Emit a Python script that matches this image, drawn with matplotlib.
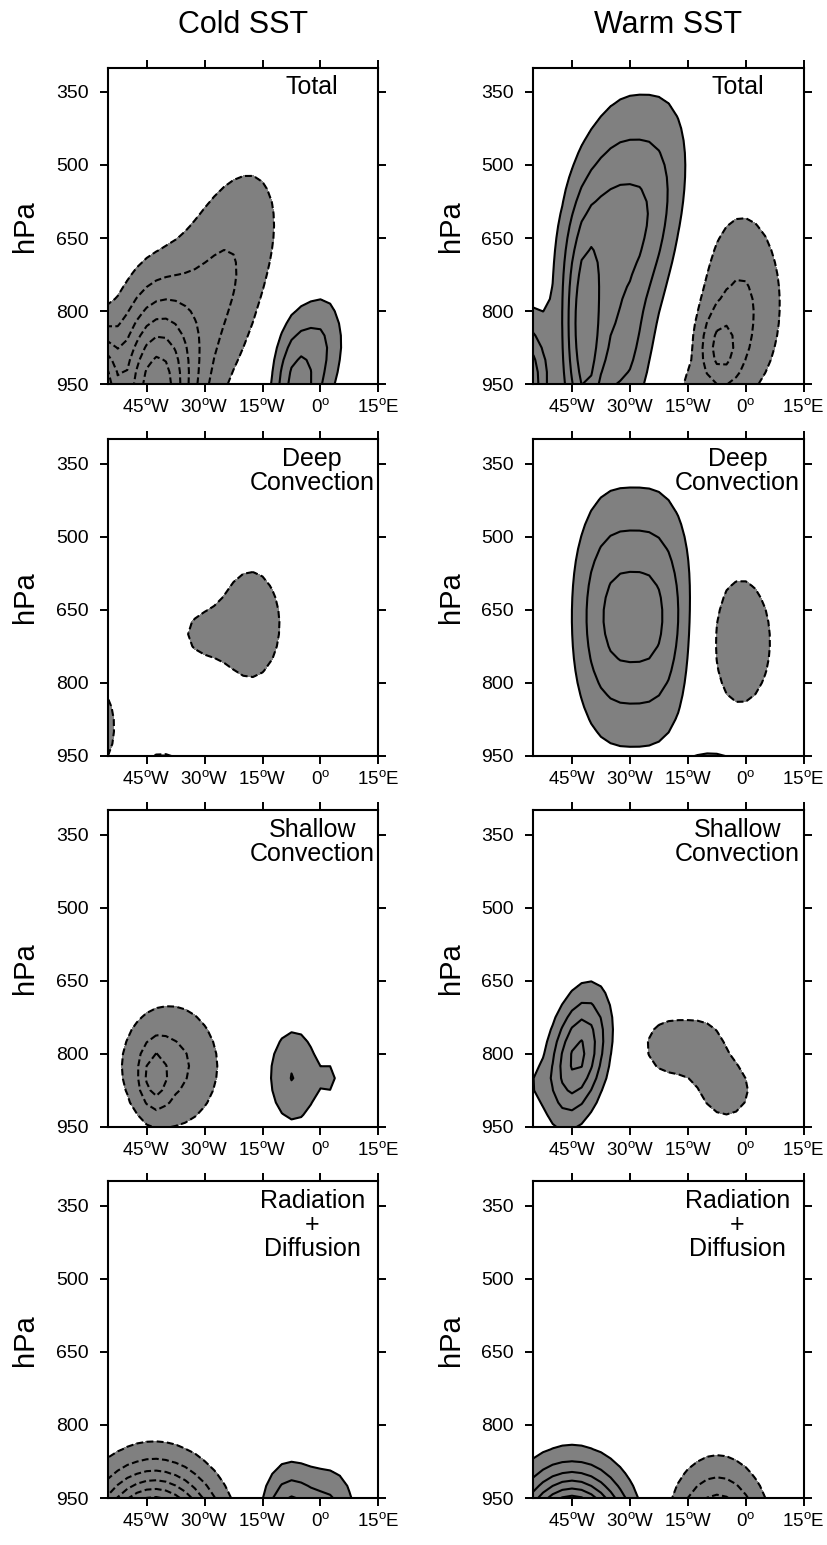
import numpy as np
import matplotlib
matplotlib.use("Agg")
import matplotlib.pyplot as plt

plt.rcParams['font.family'] = ['Liberation Sans', 'DejaVu Sans']
plt.rcParams['mathtext.fontset'] = 'custom'
plt.rcParams['mathtext.rm'] = 'Liberation Sans'
plt.rcParams['lines.dashed_pattern'] = [3.3, 1.6]

# column titles / panel names
col_titles = ['Cold SST', 'Warm SST']
row_names = ['Total', 'Deep\nConvection', 'Shallow\nConvection', 'Radiation\n+\nDiffusion']

# axes
lon_ticks = [-45, -30, -15, 0, 15]
lon_labels = ['45$^\\mathrm{o}$W', '30$^\\mathrm{o}$W', '15$^\\mathrm{o}$W', '0$^\\mathrm{o}$', '15$^\\mathrm{o}$E']
p_ticks = [350, 500, 650, 800, 950]

# anomaly cells:
# (lon centre, p centre, lon width, p width, amplitude, tilt deg/hPa, lon shape power)
cold_total = [(-27, 760, 10, 190, -2.2, -0.035, 2),
              (-43, 975, 7, 140, -6.0, 0, 2),
              (-57, 960, 3, 80, -5.0, 0, 2),
              (-6, 970, 4.5, 110, 3.6, 0, 2),
              (1.5, 860, 3.8, 75, 1.5, 0, 2)]
warm_total = [(-32, 625, 11, 172, 3.4, -0.02, 2.6),
              (-42, 900, 3.5, 170, 3.5, 0, 2),
              (-57, 950, 4, 90, 4.0, 0, 2),
              (-32, 900, 5, 100, 1.5, 0, 2),
              (-1, 785, 8, 145, -2.1, 0, 2),
              (-7, 885, 4.0, 60, -2.15, 0, 2),
              (-16, 950, 3, 30, -0.8, 0, 2)]
cold_deep = [(-18, 680, 6.5, 95, -1.9, 0, 2),
             (-31, 700, 5, 45, -1.15, 0, 2),
             (-57, 890, 3, 60, -2.0, 0, 2),
             (-41, 960, 5, 20, -1.3, 0, 2)]
warm_deep = [(-29, 665, 11.8, 168, 3.5, 0, 3),
             (-1.5, 715, 8, 130, -1.6, 0, 2),
             (-8, 955, 5, 12, 1.6, 0, 2)]
cold_shallow = [(-39, 825, 9.5, 95, -2.3, 0, 2),
                (-43, 850, 2.5, 45, -1.8, 0, 2),
                (-7, 845, 5, 75, 2.05, 0, 2),
                (2.5, 850, 1.8, 25, 1.1, 0, 2)]
warm_shallow = [(-43.5, 805, 5, 90, 4.3, -0.02, 2),
                (-54, 860, 2, 30, 0.7, 0, 2),
                (-16, 785, 9, 50, -1.8, 0, 3),
                (-5, 875, 5, 45, -1.8, 0, 2)]
cold_rad = [(-43, 1050, 10.5, 100, -10.1, 0, 2),
            (-8, 1010, 5, 80, 4.0, 0, 2),
            (3, 970, 4.5, 60, 1.9, 0, 2)]
warm_rad = [(-45, 1050, 9.2, 95, 11, 0, 2),
            (-7.3, 1040, 8.1, 100, -4.8, 0, 2)]

panels = [[cold_total, warm_total],
          [cold_deep, warm_deep],
          [cold_shallow, warm_shallow],
          [cold_rad, warm_rad]]

lon = np.arange(-55, 15.01, 2.5)
lev = np.arange(300, 950.1, 25)
LON, P = np.meshgrid(lon, lev)


def build_field(cells):
    z = np.zeros_like(LON)
    for x0, p0, sx, sp, amp, tilt, q in cells:
        xc = x0 + tilt * (P - p0)
        d = np.abs((LON - xc) / sx) ** q + ((P - p0) / sp) ** 2
        z += amp * np.exp(-0.5 * d)
    return z


fig = plt.figure(figsize=(8.27, 15.45), dpi=100)

lefts = [0.1306, 0.6449]
width = 0.327
bottoms = [0.7513, 0.5107, 0.2706, 0.0304]
height = 0.2050

for r in range(4):
    for c in range(2):
        ax = fig.add_axes([lefts[c], bottoms[r], width, height])
        z = build_field(panels[r][c])
        ax.contourf(LON, P, z, levels=[1, 1e3], colors=['#808080'])
        ax.contourf(LON, P, z, levels=[-1e3, -1], colors=['#808080'])
        pos = np.arange(1, 12)
        if z.max() >= 1:
            ax.contour(LON, P, z, levels=pos, colors='k', linewidths=1.5, linestyles='solid')
        if z.min() <= -1:
            ax.contour(LON, P, z, levels=-pos[::-1], colors='k', linewidths=1.5, linestyles='dashed')

        ax.set_xlim(-55, 15)
        ax.set_ylim(950, 300)
        ax.set_xticks(lon_ticks)
        ax.set_xticklabels(lon_labels)
        ax.set_yticks(p_ticks)
        ax.tick_params(direction='out', length=6, width=1.4, labelsize=13.5,
                       top=True, right=True, pad=4)
        ax.tick_params(axis='y', labelsize=14, pad=8)
        for s in ax.spines.values():
            s.set_linewidth(1.5)
        ax.set_ylabel('hPa', fontsize=21, labelpad=12)
        ax.text(0.755, 0.975, row_names[r], transform=ax.transAxes, ha='center',
                va='top', fontsize=18, multialignment='center', linespacing=1.0)
        if r == 0:
            fig.text(lefts[c] + width / 2, 0.984, col_titles[c], ha='center',
                     va='center', fontsize=22)

fig.savefig('out.png', dpi=100)
